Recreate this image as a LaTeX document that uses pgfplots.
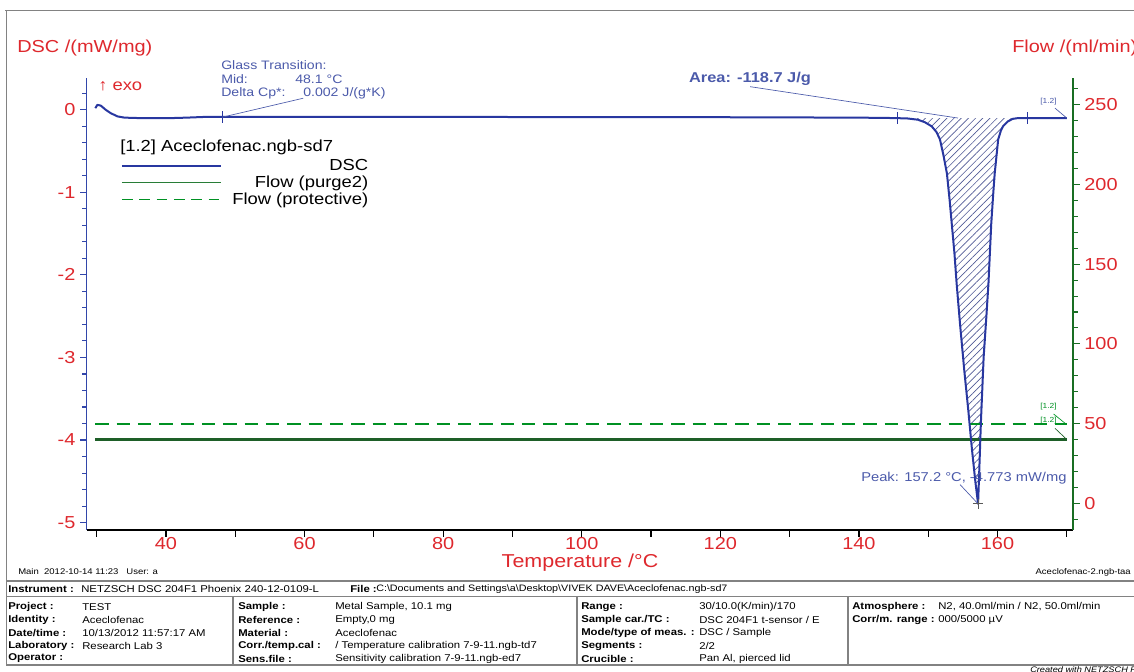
\documentclass[border=0pt]{standalone}
\usepackage{fontspec}
\setmainfont{Liberation Sans}[FakeStretch=1.15]
\usepackage{pgfplots}
\pgfplotsset{compat=1.18}
\usepgfplotslibrary{fillbetween}
\usetikzlibrary{patterns.meta}
\definecolor{dscblue}{RGB}{40,55,160}
\definecolor{annblue}{RGB}{75,90,170}
\definecolor{axred}{RGB}{222,40,45}
\definecolor{flowgreen}{RGB}{30,95,40}
\definecolor{leggreen}{RGB}{40,125,55}
\definecolor{dashgreen}{RGB}{0,145,35}
\definecolor{axisblue}{RGB}{50,70,170}
\definecolor{axisgreen}{RGB}{25,110,35}
\definecolor{hatchc}{RGB}{80,90,150}
\definecolor{framegray}{RGB}{130,130,130}
\newcommand{\fs}[1]{\fontsize{#1}{#1}\selectfont}
\begin{document}
\begin{tikzpicture}
% ---------- Flow axis (right) ----------
\begin{axis}[
  at={(65.1pt,-397.5pt)}, anchor=south west,
  scale only axis, width=739.65pt, height=339pt,
  xmin=28.57, xmax=170.9, ymin=-16.8, ymax=266.8,
  axis x line=none, axis y line*=right,
  axis line style={-},
  y axis line style={axisgreen, line width=0.9pt},
  ytick={0,50,...,250},
  minor ytick={-10,10,20,30,40,60,70,80,90,110,120,130,140,160,170,180,190,210,220,230,240,260},
  tick align=outside, major tick length=5pt, minor tick length=3.5pt,
  y tick style={axisgreen, line width=0.8pt},
  yticklabel style={font=\fs{13}, text=axred},
  /pgf/number format/assume math mode=true,
  clip=false,
]
\addplot[flowgreen, line width=1.6pt] coordinates {(29.8,40) (170,40)};
\addplot[color=dashgreen, line width=1.5pt, dash pattern=on 10pt off 6pt] coordinates {(29.8,50) (170,50)};
\draw[dashgreen, line width=0.5pt] (axis cs:168.1,56) -- (axis cs:169.8,50);
\draw[flowgreen, line width=0.5pt] (axis cs:168.3,47) -- (axis cs:170,40);
\end{axis}
% ---------- DSC axis (left) ----------
\begin{axis}[
  at={(65.1pt,-397.5pt)}, anchor=south west,
  scale only axis, width=739.65pt, height=339pt,
  set layers,
  xmin=28.57, xmax=170.9, ymin=-5.09, ymax=0.385,
  axis x line*=bottom, axis y line*=left,
  axis line style={-},
  x axis line style={black, line width=0.9pt},
  y axis line style={axisblue, line width=0.9pt},
  xtick={30,40,...,170},
  xticklabels={,40,,60,,80,,100,,120,,140,,160,},
  ytick={-5,-4,-3,-2,-1,0},
  minor ytick={-4.8,-4.6,-4.4,-4.2,-3.8,-3.6,-3.4,-3.2,-2.8,-2.6,-2.4,-2.2,-1.8,-1.6,-1.4,-1.2,-0.8,-0.6,-0.4,-0.2,0.2},
  tick align=outside, major tick length=5pt, minor tick length=3.5pt,
  x tick style={black, line width=0.9pt},
  y tick style={axisblue, line width=0.8pt},
  tick label style={font=\fs{13}, text=axred},
  xticklabel style={yshift=3pt},
  /pgf/number format/assume math mode=true,
  clip=false,
  legend style={at={(axis cs:33.5,-0.571)}, anchor=north west, draw=none, fill=none,
    inner sep=0pt, outer sep=0pt, font=\fs{12}, column sep=5.5pt, row sep=-1.5pt,
    cells={anchor=east}},
  legend image code/.code={\draw[#1] (0pt,0pt) -- (74.5pt,0pt);},
]
\addplot[name path=dsc, dscblue, line width=1.5pt, line join=round] coordinates {
(29.8,0.02) (30.1,0.06) (30.6,0.05) (31.3,0.0) (32.0,-0.04) (33.0,-0.08) (34.0,-0.095)
(36,-0.10) (41,-0.10) (43,-0.095) (46,-0.085) (48.1,-0.085) (60,-0.085) (80,-0.085)
(100,-0.09) (120,-0.09) (140,-0.095) (145,-0.10) (147,-0.105) (148.5,-0.12) (149.5,-0.15)
(150.5,-0.20) (151.2,-0.27) (151.7,-0.36) (152.2,-0.55) (152.7,-0.77) (153.1,-1.1)
(153.4,-1.38) (153.8,-1.75) (154.1,-2.1) (154.6,-2.6) (155.2,-3.15) (155.8,-3.65)
(156.3,-4.1) (156.8,-4.5) (157.2,-4.773) (157.4,-4.3) (157.6,-3.8) (158.0,-3.0)
(158.4,-2.5) (158.7,-2.1) (159.1,-1.38) (159.4,-1.0) (159.6,-0.77) (160.1,-0.36)
(160.5,-0.25) (160.8,-0.2) (161.5,-0.14) (162.2,-0.11) (163,-0.10) (170,-0.10)
};
\addlegendentry{DSC}
\addlegendimage{color=leggreen, line width=0.7pt}
\addlegendentry{Flow (purge2)}
\addlegendimage{color=dashgreen, line width=0.9pt, dash pattern=on 8pt off 5pt}
\addlegendentry{Flow (protective)}
\addplot[name path=base, draw=none, forget plot] coordinates {(145.6,-0.1) (164.3,-0.1)};
\addplot[pattern={Lines[angle=45,distance=3.8pt,line width=0.5pt]}, pattern color=hatchc, forget plot]
  fill between[of=dsc and base, soft clip={domain=146:164}];
% small marker ticks
\addplot[dscblue, line width=0.6pt, forget plot] coordinates {(48.1,-0.02) (48.1,-0.16)};
\addplot[dscblue, line width=0.6pt, forget plot] coordinates {(145.6,-0.03) (145.6,-0.17)};
\addplot[dscblue, line width=0.6pt, forget plot] coordinates {(164.3,-0.03) (164.3,-0.17)};
\addplot[only marks, mark=+, mark size=4pt, black!65, line width=0.8pt, forget plot] coordinates {(157.2,-4.773)};
% leader lines
\draw[annblue, line width=0.5pt] (axis cs:48.1,-0.09) -- (axis cs:59.8,0.14);
\draw[annblue, line width=0.5pt] (axis cs:124.3,0.28) -- (axis cs:154.3,-0.1);
\draw[annblue, line width=0.5pt] (axis cs:154.6,-4.54) -- (axis cs:157.2,-4.773);
\draw[annblue, line width=0.5pt] (axis cs:168.3,0.02) -- (axis cs:170,-0.1);
\end{axis}
% ---------- overlay texts (pixel coordinates) ----------
\begin{scope}[x=0.75pt,y=-0.75pt]
% frame
\draw[framegray, line width=1.2pt] (5,10.5) -- (1134,10.5);
\draw[framegray, line width=1.2pt] (6.5,10) -- (6.5,666);
% axis titles
\node[anchor=west, text=axred, font=\fs{13}, inner sep=0pt] at (17,48) {DSC /(mW/mg)};
\node[anchor=west, text=axred, font=\fs{13}, inner sep=0pt] at (1012,48) {Flow /(ml/min)};
\node[anchor=center, text=axred, font=\fs{14}, inner sep=0pt] at (580,563) {Temperature /°C};
\node[anchor=west, text=axred, font=\fs{12}, inner sep=0pt] at (98,86) {↑ exo};
% annotations
\begin{scope}[every node/.style={anchor=west, text=annblue, font=\fs{9.2}, inner sep=0pt}]
\node at (221,65) {Glass Transition:};
\node at (221,79) {Mid:};
\node at (295,79) {48.1 °C};
\node at (221,93) {Delta Cp*:};
\node at (303,93) {0.002 J/(g*K)};
\node[font=\fs{9.6}] at (861,478) {Peak: 157.2 °C, -4.773 mW/mg};
\node[font=\bfseries\fs{10.7}, anchor=center] at (750,79) {Area: -118.7 J/g};
\node[font=\fs{5.5}] at (1040,102) {[1.2]};
\end{scope}
\node[anchor=west, text=dashgreen, font=\fs{5.5}, inner sep=0pt] at (1040,407) {[1.2]};
\node[anchor=west, text=dashgreen, font=\fs{5.5}, inner sep=0pt] at (1040,421) {[1.2]};
% legend title
\node[anchor=west, font=\fs{12}, inner sep=0pt] at (120,147) {[1.2] Aceclofenac.ngb-sd7};
% footer
\node[anchor=west, font=\fs{6.2}, inner sep=0pt] at (18,572) {Main\ \ 2012-10-14 11:23\ \ \ User: a};
\node[anchor=east, font=\fs{6.2}, inner sep=0pt] at (1131,572) {Aceclofenac-2.ngb-taa};
% info table
\draw[framegray, line width=1.6pt] (6,581) -- (1134,581);
\draw[framegray, line width=0.9pt] (6,596.5) -- (1134,596.5);
\draw[framegray, line width=0.9pt] (6,665) -- (1134,665);
\draw[framegray, line width=0.9pt] (233,596.5) -- (233,665);
\draw[framegray, line width=0.9pt] (577,596.5) -- (577,665);
\draw[framegray, line width=0.9pt] (848,596.5) -- (848,665);
\begin{scope}[every node/.style={anchor=west, font=\fs{7.4}, inner sep=0pt}]
\node at (8,589) {\textbf{Instrument :}};
\node at (81,589) {NETZSCH DSC 204F1 Phoenix 240-12-0109-L};
\node at (350,589) {\textbf{File :}};
\node[font=\fs{7}] at (376,589) {C:\textbackslash Documents and Settings\textbackslash a\textbackslash Desktop\textbackslash VIVEK DAVE\textbackslash Aceclofenac.ngb-sd7};
% column 1
\node at (8,607) {\textbf{Project :}};
\node at (8,620) {\textbf{Identity :}};
\node at (8,633) {\textbf{Date/time :}};
\node at (8,646) {\textbf{Laboratory :}};
\node at (8,658.5) {\textbf{Operator :}};
\node at (82,607) {TEST};
\node at (82,620) {Aceclofenac};
\node at (82,633) {10/13/2012 11:57:17 AM};
\node at (82,646) {Research Lab 3};
% column 2
\node at (238,607) {\textbf{Sample :}};
\node at (238,620) {\textbf{Reference :}};
\node at (238,633) {\textbf{Material :}};
\node at (238,646) {\textbf{Corr./temp.cal :}};
\node at (238,658.5) {\textbf{Sens.file :}};
\node at (335,607) {Metal Sample, 10.1 mg};
\node at (335,620) {Empty,0 mg};
\node at (335,633) {Aceclofenac};
\node at (335,646) {/ Temperature calibration 7-9-11.ngb-td7};
\node at (335,658.5) {Sensitivity calibration 7-9-11.ngb-ed7};
% column 3
\node at (581,607) {\textbf{Range :}};
\node at (581,620) {\textbf{Sample car./TC :}};
\node at (581,633) {\textbf{Mode/type of meas. :}};
\node at (581,646) {\textbf{Segments :}};
\node at (581,658.5) {\textbf{Crucible :}};
\node at (699,607) {30/10.0(K/min)/170};
\node at (699,620) {DSC 204F1 t-sensor / E};
\node at (699,633) {DSC / Sample};
\node at (699,646) {2/2};
\node at (699,658.5) {Pan Al, pierced lid};
% column 4
\node at (852,607) {\textbf{Atmosphere :}};
\node at (852,620) {\textbf{Corr/m. range :}};
\node at (938,607) {N2, 40.0ml/min / N2, 50.0ml/min};
\node at (938,620) {000/5000 µV};
\end{scope}
\node[anchor=west, font=\itshape\fs{6}, inner sep=0pt] at (1030,670) {Created with NETZSCH Proteus software};
\end{scope}
\pgfresetboundingbox
\path[use as bounding box] (0pt,0pt) rectangle (850.5pt,-503.25pt);
\end{tikzpicture}
\end{document}
